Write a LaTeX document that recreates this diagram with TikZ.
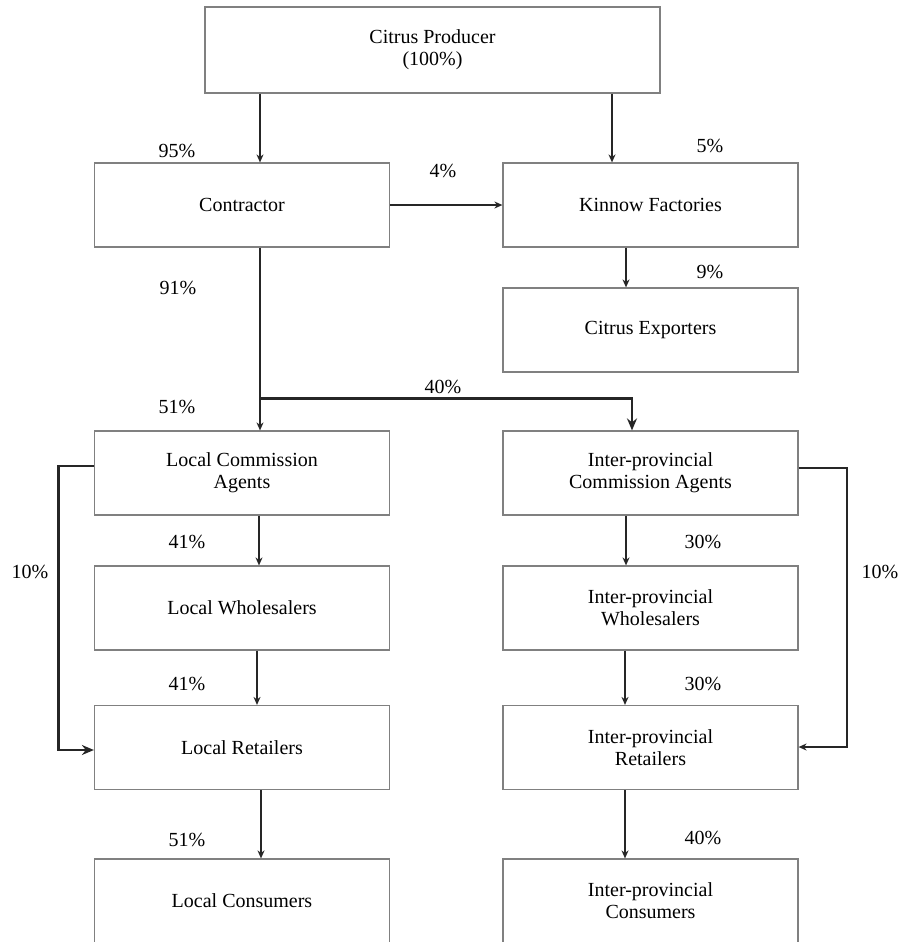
\documentclass[tikz,border=0pt]{standalone}
\usepackage{fontspec}
\setmainfont{Liberation Serif}
\usetikzlibrary{arrows.meta}

\begin{document}
\begin{tikzpicture}[x=0.5pt,y=-0.5pt,
    block/.style={shape=rectangle,draw=gray,line width=0.6pt,fill=white,
      minimum width=147.5pt,minimum height=42pt,align=center,inner sep=2pt,
      font=\fontsize{10}{11}\selectfont},
    pct/.style={font=\fontsize{10}{11}\selectfont},
    flow/.style={draw=black!85,line width=0.9pt,-{Stealth[length=4pt,width=3.5pt]}},
    bigflow/.style={draw=black!85,line width=1.1pt,-{Stealth[length=6pt,width=5pt]}}]
            \useasboundingbox (0,0) rectangle (901,943);
            \clip (0,0) rectangle (901,941.5);

            \node[block,minimum width=227.5pt,minimum height=43pt] (prod) at (432.5,50) {Citrus Producer\\(100\%)};
            \node[block] (contr) at (242,205) {Contractor};
            \node[block] (kinnow) at (650.5,205) {Kinnow Factories};
            \node[block] (export) at (650.5,330) {Citrus Exporters};
            \node[block] (lca) at (242,473) {Local Commission\\Agents};
            \node[block] (ipca) at (650.5,473) {Inter-provincial\\Commission Agents};
            \node[block] (lw) at (242,608) {Local Wholesalers};
            \node[block] (ipw) at (650.5,608) {Inter-provincial\\Wholesalers};
            \node[block] (lr) at (242,747.5) {Local Retailers};
            \node[block] (ipr) at (650.5,747.5) {Inter-provincial\\Retailers};
            \node[block] (lc) at (242,901) {Local Consumers};
            \node[block] (ipc) at (650.5,901) {Inter-provincial\\Consumers};

            \coordinate (fork) at ([xshift=9pt,yshift=16pt]lca.north);

            \draw [flow] ([xshift=9pt]contr.north |- prod.south) -- ([xshift=9pt]contr.north);
            \draw [flow] ([xshift=-19.25pt]kinnow.north |- prod.south) -- ([xshift=-19.25pt]kinnow.north);
            \draw [flow] (contr.east) -- (kinnow.west);
            \draw [flow] ([xshift=-12.25pt]kinnow.south) -- ([xshift=-12.25pt]export.north);
            \draw [flow] ([xshift=9pt]contr.south) -- ([xshift=9pt]lca.north);
            \draw [bigflow] (fork) -| ([xshift=-9.25pt]ipca.north);
            \draw [flow] ([xshift=8.5pt]lca.south) -- ([xshift=8.5pt]lw.north);
            \draw [flow] ([xshift=7.5pt]lw.south) -- ([xshift=7.5pt]lr.north);
            \draw [flow] ([xshift=9.5pt]lr.south) -- ([xshift=9.5pt]lc.north);
            \draw [flow] ([xshift=-12.25pt]ipca.south) -- ([xshift=-12.25pt]ipw.north);
            \draw [flow] ([xshift=-12.75pt]ipw.south) -- ([xshift=-12.75pt]ipr.north);
            \draw [flow] ([xshift=-12.75pt]ipr.south) -- ([xshift=-12.75pt]ipc.north);
            \draw [bigflow] ([yshift=3.5pt]lca.west) -- ++(-35.5,0) |- ([yshift=-1.25pt]lr.west);
            \draw [flow] ([yshift=2.5pt]ipca.east) -- ++(48,0) |- ([yshift=0.25pt]ipr.east);

            \node[pct] (p95) at (177,151) {95\%};
            \node[pct] (p4) at (443,171) {4\%};
            \node[pct] (p5) at (710,146) {5\%};
            \node[pct] (p91) at (178,288) {91\%};
            \node[pct] (p9) at (710,272) {9\%};
            \node[pct] (p51a) at (177,407) {51\%};
            \node[pct] (p40a) at (443,387) {40\%};
            \node[pct] (p41a) at (187,542) {41\%};
            \node[pct] (p41b) at (187,684) {41\%};
            \node[pct] (p51b) at (187,840) {51\%};
            \node[pct] (p30a) at (703,542) {30\%};
            \node[pct] (p30b) at (703,684) {30\%};
            \node[pct] (p40b) at (703,838) {40\%};
            \node[pct] (p10a) at (30,572) {10\%};
            \node[pct] (p10b) at (880,572) {10\%};
        \end{tikzpicture}
\end{document}
